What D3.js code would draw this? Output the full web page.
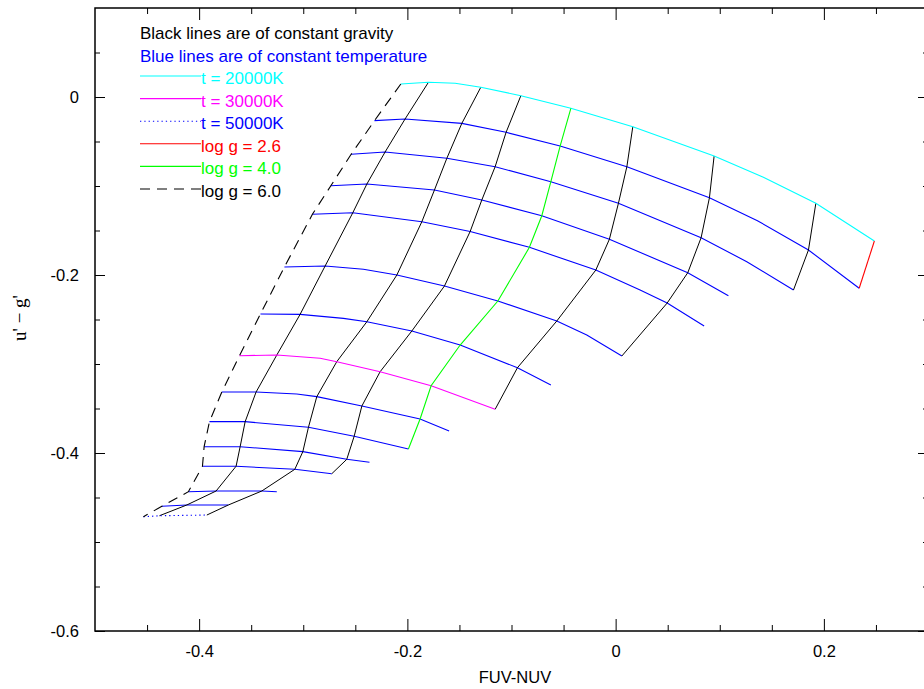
<!DOCTYPE html>
<html><head><meta charset="utf-8">
<script src="https://cdn.jsdelivr.net/npm/d3@7"></script>
<style>
body{margin:0;background:#fff;}
svg{display:block;font-family:"Liberation Sans",Arial,Helvetica,sans-serif;}
</style>
</head><body>
<svg id="chart" width="924" height="689"></svg>
<script>
// ---------- data (FUV-NUV, u'-g') ----------
const xMajorTicks = [-0.4, -0.2, 0, 0.2];
const xTickLabels = ["-0.4", "-0.2", "0", "0.2"];
const yMajorTicks = [0, -0.2, -0.4, -0.6];
const yTickLabels = ["0", "-0.2", "-0.4", "-0.6"];
const xMinorTicks = [-0.45,-0.35,-0.3,-0.25,-0.15,-0.1,-0.05,0.05,0.1,0.15,0.25];
const yMinorTicks = [0.05,-0.05,-0.1,-0.15,-0.25,-0.3,-0.35,-0.45,-0.5,-0.55];

const headerLines = ["Black lines are of constant gravity", "Blue lines are of constant temperature"];
const legendLabels = ["t = 20000K", "t = 30000K", "t = 50000K", "log g = 2.6", "log g = 4.0", "log g = 6.0"];

// lines of constant temperature (top = 20000K ... bottom = 50000K)
const tRow00 = [[-0.2063,0.0146],[-0.1798,0.0165],[-0.1541,0.0155],[-0.1295,0.0109],[-0.0910,0.0015],[-0.0430,-0.0127],[0.0165,-0.0334],[0.0946,-0.0663],[0.1419,-0.0902],[0.1923,-0.1194],[0.2485,-0.1618]];
const tRow01 = [[-0.2316,-0.0266],[-0.2022,-0.0247],[-0.1477,-0.0296],[-0.1052,-0.0397],[-0.0533,-0.0551],[0.0108,-0.0783],[0.0901,-0.1131],[0.1362,-0.1390],[0.1852,-0.1719],[0.2339,-0.2149]];
const tRow02 = [[-0.2540,-0.0644],[-0.2214,-0.0618],[-0.1621,-0.0689],[-0.1157,-0.0783],[-0.0622,-0.0952],[0.0027,-0.1194],[0.0821,-0.1581],[0.1260,-0.1851],[0.1708,-0.2169]];
const tRow03 = [[-0.2735,-0.0997],[-0.2389,-0.0978],[-0.1740,-0.1045],[-0.1285,-0.1157],[-0.0709,-0.1334],[-0.0060,-0.1599],[0.0693,-0.1974],[0.1083,-0.2233]];
const tRow04 = [[-0.2912,-0.1318],[-0.2524,-0.1300],[-0.1861,-0.1401],[-0.1397,-0.1511],[-0.0828,-0.1689],[-0.0190,-0.1944],[0.0235,-0.2169],[0.0495,-0.2315],[0.0850,-0.2573]];
const tRow05 = [[-0.3181,-0.1910],[-0.2790,-0.1899],[-0.2422,-0.1936],[-0.2101,-0.2000],[-0.1644,-0.2124],[-0.1131,-0.2292],[-0.0565,-0.2517],[-0.0277,-0.2674],[0.0060,-0.2910]];
const tRow06 = [[-0.3411,-0.2438],[-0.3030,-0.2442],[-0.2614,-0.2487],[-0.2389,-0.2525],[-0.1957,-0.2629],[-0.1493,-0.2787],[-0.0943,-0.3042],[-0.0622,-0.3236]];
const tRow07 = [[-0.3613,-0.2907],[-0.3254,-0.2899],[-0.2838,-0.2936],[-0.2678,-0.2974],[-0.2262,-0.3087],[-0.1772,-0.3244],[-0.1157,-0.3509]];
const tRow08 = [[-0.3782,-0.3315],[-0.3453,-0.3315],[-0.3062,-0.3337],[-0.2870,-0.3367],[-0.2437,-0.3472],[-0.1878,-0.3618],[-0.1599,-0.3753]];
const tRow09 = [[-0.3901,-0.3648],[-0.3558,-0.3648],[-0.2950,-0.3711],[-0.2511,-0.3812],[-0.1990,-0.3955]];
const tRow10 = [[-0.3952,-0.3929],[-0.3606,-0.3929],[-0.3004,-0.3985],[-0.2582,-0.4071],[-0.2364,-0.4104]];
const tRow11 = [[-0.3968,-0.4149],[-0.3645,-0.4149],[-0.3081,-0.4183],[-0.2726,-0.4233]];
const tRow12 = [[-0.4103,-0.4435],[-0.3837,-0.4427],[-0.3398,-0.4427],[-0.3254,-0.4435]];
const tRow13 = [[-0.4358,-0.4599],[-0.4118,-0.4584],[-0.3719,-0.4584]];
const tRow14 = [[-0.4535,-0.4716],[-0.4381,-0.4705],[-0.3926,-0.4697]];

// lines of constant gravity (left = log g 6.0 ... right = log g 2.6)
const gCol60 = [[-0.2063,0.0146],[-0.2316,-0.0266],[-0.2540,-0.0644],[-0.2735,-0.0997],[-0.2912,-0.1318],[-0.3181,-0.1910],[-0.3411,-0.2438],[-0.3613,-0.2907],[-0.3782,-0.3315],[-0.3901,-0.3648],[-0.3952,-0.3929],[-0.3968,-0.4149],[-0.4103,-0.4435],[-0.4358,-0.4599],[-0.4535,-0.4716]];
const gCol2 = [[-0.1798,0.0165],[-0.2022,-0.0247],[-0.2214,-0.0618],[-0.2389,-0.0978],[-0.2524,-0.1300],[-0.2790,-0.1899],[-0.3030,-0.2442],[-0.3254,-0.2899],[-0.3453,-0.3315],[-0.3558,-0.3648],[-0.3606,-0.3929],[-0.3645,-0.4149],[-0.3837,-0.4427],[-0.4118,-0.4584],[-0.4381,-0.4705]];
const gCol3 = [[-0.1295,0.0109],[-0.1477,-0.0296],[-0.1621,-0.0689],[-0.1740,-0.1045],[-0.1861,-0.1401],[-0.2101,-0.2000],[-0.2389,-0.2525],[-0.2678,-0.2974],[-0.2870,-0.3367],[-0.2950,-0.3711],[-0.3004,-0.3985],[-0.3081,-0.4183],[-0.3398,-0.4427],[-0.3719,-0.4584],[-0.3926,-0.4697]];
const gCol4 = [[-0.0910,0.0015],[-0.1052,-0.0397],[-0.1157,-0.0783],[-0.1285,-0.1157],[-0.1397,-0.1511],[-0.1644,-0.2124],[-0.1957,-0.2629],[-0.2262,-0.3087],[-0.2437,-0.3472],[-0.2511,-0.3812],[-0.2582,-0.4071],[-0.2726,-0.4233]];
const gCol40 = [[-0.0430,-0.0127],[-0.0533,-0.0551],[-0.0622,-0.0952],[-0.0709,-0.1334],[-0.0828,-0.1689],[-0.1131,-0.2292],[-0.1493,-0.2787],[-0.1772,-0.3244],[-0.1878,-0.3618],[-0.1990,-0.3955]];
const gCol6 = [[0.0165,-0.0334],[0.0108,-0.0783],[0.0027,-0.1194],[-0.0060,-0.1599],[-0.0190,-0.1944],[-0.0565,-0.2517],[-0.0943,-0.3042],[-0.1157,-0.3509]];
const gCol7 = [[0.0946,-0.0663],[0.0901,-0.1131],[0.0821,-0.1581],[0.0693,-0.1974],[0.0495,-0.2315],[0.0060,-0.2910]];
const gCol8 = [[0.1923,-0.1194],[0.1852,-0.1719],[0.1708,-0.2169]];
const gCol26 = [[0.2485,-0.1618],[0.2339,-0.2149]];

// ---------- drawing ----------
const svg = d3.select("#chart");
const x = d3.scaleLinear().domain([-0.5, 0.3]).range([95, 928]);
const y = d3.scaleLinear().domain([-0.6, 0.1]).range([631, 8]);
const line = d3.line().x(d => x(d[0])).y(d => y(d[1]));

const FS = 16.5;
const LFS = 17;

// plain blue temperature rows
const blueRows = [tRow01,tRow02,tRow03,tRow04,tRow05,tRow06,tRow08,tRow09,tRow10,tRow11,tRow12,tRow13];
svg.append("g").selectAll("path").data(blueRows).join("path")
  .attr("d", line).attr("fill","none").attr("stroke","#0000ff").attr("stroke-width",1.1);

// plain black gravity columns
const blackCols = [gCol2,gCol3,gCol4,gCol6,gCol7,gCol8];
svg.append("g").selectAll("path").data(blackCols).join("path")
  .attr("d", line).attr("fill","none").attr("stroke","#000").attr("stroke-width",1);

// highlighted lines
const special = [
  {d: tRow00, c: "#00ffff", dash: null},
  {d: tRow07, c: "#ff00ff", dash: null},
  {d: tRow14, c: "#0000ff", dash: "1.3,3"},
  {d: gCol26, c: "#ff0000", dash: null},
  {d: gCol40, c: "#00ff00", dash: null},
  {d: gCol60, c: "#000000", dash: "10,7"}
];
svg.append("g").selectAll("path").data(special).join("path")
  .attr("d", s => line(s.d)).attr("fill","none").attr("stroke", s => s.c)
  .attr("stroke-width",1.1).attr("stroke-dasharray", s => s.dash);

// axes (ticks inward)
function styleAxis(g){ g.select(".domain").remove(); g.selectAll("line").attr("stroke","#000"); g.selectAll("text").attr("font-size",FS).attr("font-family","'Liberation Sans',Arial,sans-serif").attr("fill","#000"); }
svg.append("g").attr("transform","translate(0,631)")
  .call(d3.axisBottom(x).tickValues(xMajorTicks).tickFormat((d,i)=>xTickLabels[i]).tickSize(-12).tickPadding(14)).call(styleAxis);
svg.append("g").attr("transform","translate(0,631)")
  .call(d3.axisBottom(x).tickValues(xMinorTicks).tickFormat("").tickSize(-6)).call(styleAxis);
svg.append("g").attr("transform","translate(0,8)")
  .call(d3.axisTop(x).tickValues(xMajorTicks).tickFormat("").tickSize(-12)).call(styleAxis);
svg.append("g").attr("transform","translate(0,8)")
  .call(d3.axisTop(x).tickValues(xMinorTicks).tickFormat("").tickSize(-6)).call(styleAxis);
svg.append("g").attr("transform","translate(95,0)")
  .call(d3.axisLeft(y).tickValues(yMajorTicks).tickFormat((d,i)=>yTickLabels[i]).tickSize(-10).tickPadding(16)).call(styleAxis);
svg.append("g").attr("transform","translate(95,0)")
  .call(d3.axisLeft(y).tickValues(yMinorTicks).tickFormat("").tickSize(-5)).call(styleAxis);
svg.append("g").attr("transform","translate(928,0)")
  .call(d3.axisRight(y).tickValues(yMajorTicks).tickFormat("").tickSize(-10)).call(styleAxis);
svg.append("g").attr("transform","translate(928,0)")
  .call(d3.axisRight(y).tickValues(yMinorTicks).tickFormat("").tickSize(-5)).call(styleAxis);

// frame
svg.append("rect").attr("x",95).attr("y",8).attr("width",833).attr("height",623)
  .attr("fill","none").attr("stroke","#000").attr("stroke-width",1.5);

// axis titles
svg.append("text").attr("x",515).attr("y",683).attr("text-anchor","middle")
  .attr("font-size",FS).text("FUV-NUV");
svg.append("text").attr("transform","translate(26,318) rotate(-90)").attr("text-anchor","middle")
  .attr("font-family","'Liberation Serif','Times New Roman',serif").attr("font-size",19)
  .text("u' \u2212 g'");

// header text
const headerColors = ["#000000","#0000ff"];
svg.append("g").selectAll("text").data(headerLines).join("text")
  .attr("x",140).attr("y",(d,i)=>39 + i*23).attr("font-size",LFS)
  .attr("fill",(d,i)=>headerColors[i]).text(d=>d);

// legend
const legColors = ["#00ffff","#ff00ff","#0000ff","#ff0000","#00ff00","#000000"];
const legDash = [null,null,"1.3,3",null,null,"10,7"];
const lg = svg.append("g").selectAll("g").data(legendLabels).join("g")
  .attr("transform",(d,i)=>`translate(0,${76 + i*22.6})`);
lg.append("line").attr("x1",140).attr("x2",201).attr("y1",0).attr("y2",0)
  .attr("stroke",(d,i)=>legColors[i]).attr("stroke-width",1.1).attr("stroke-dasharray",(d,i)=>legDash[i]);
lg.append("text").attr("x",201).attr("y",8).attr("font-size",LFS)
  .attr("fill",(d,i)=>legColors[i]).text(d=>d);
</script>
</body></html>
